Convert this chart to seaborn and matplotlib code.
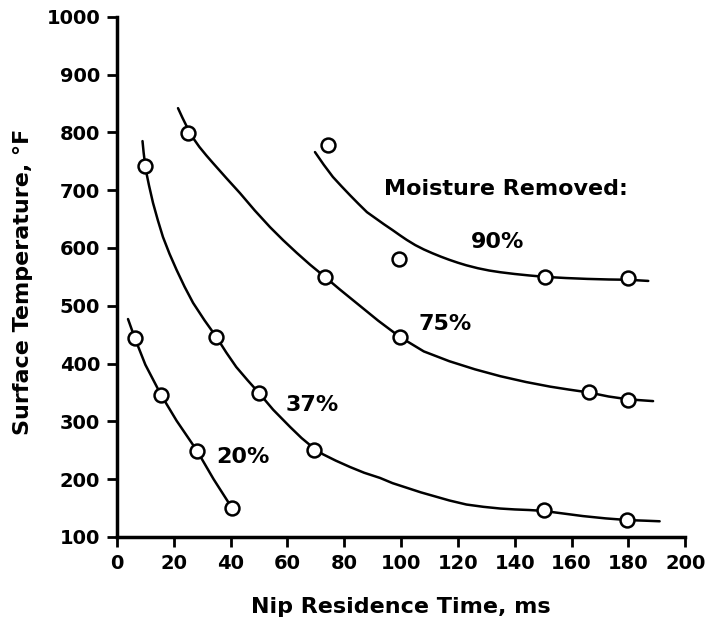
import seaborn as sns
import matplotlib.pyplot as plt

# measured points (nip residence time ms, surface temperature F)
pts_20_x = [6.3, 15.5, 28.2, 40.5]
pts_20_y = [444, 346, 249, 150]
pts_37_x = [10, 35, 50, 69.4, 150.4, 179.6]
pts_37_y = [742, 446, 349, 251, 147, 129]
pts_75_x = [25, 73.2, 99.6, 166, 180]
pts_75_y = [799, 550, 446, 351, 337]
pts_90_x = [74.3, 99.3, 150.7, 180]
pts_90_y = [778, 581, 550, 548]

# fitted curves
fit_20_x = [3.9, 6.3, 10, 15.5, 21, 28.2, 34, 40.5]
fit_20_y = [477, 444, 398, 346, 301, 249, 200, 150]
fit_37_x = [9.0, 9.4, 9.9, 10.5, 11.3, 12.7, 14.4, 16.2, 18.5, 21, 23.8, 26.8, 30.8, 35, 38.5,
            42, 46, 50, 55, 61, 65, 69.4, 72.5, 77, 82, 87, 92.6, 97, 102, 107, 112, 117, 123,
            129, 135, 140, 145, 150, 157, 164, 172, 180, 186, 191]
fit_37_y = [785, 765, 745, 727, 708, 678, 648, 619, 590, 562, 533, 505, 475, 446, 419,
            394, 371, 349, 320, 290, 271, 253, 243, 232, 221, 211, 202, 193, 185, 177, 170, 163, 156,
            152, 149, 147.5, 146.5, 145, 140.5, 136, 132, 129, 128, 127]
fit_75_x = [21.5, 23, 25, 27, 29, 31.5, 33.8, 38.5, 43.3, 48.5, 53.9, 58.5, 63.3, 68, 73.2,
            78.5, 84.5, 92, 99.6, 108, 117, 126, 135, 144, 152.5, 159, 166, 173, 180, 188.7]
fit_75_y = [842, 826, 806, 789, 775, 760, 747, 721, 695, 665, 636, 613.5, 591.5, 571, 550,
            528, 504, 474, 446, 421, 404, 390, 378, 368, 360, 355, 350, 343, 338, 335]
fit_90_x = [69.7, 72.8, 76, 79, 82, 85, 88, 91, 94, 97, 99.6, 102, 105, 108, 111, 114, 117,
            120, 123, 127, 131, 135, 140, 145, 150.7, 158, 165.5, 173, 180, 187]
fit_90_y = [766, 744, 723, 707, 691.5, 676.5, 662, 651.5, 641, 631, 622, 614, 605, 597.5,
            591, 585, 579.5, 574.5, 570, 565, 561, 558, 555, 552.5, 550, 548, 546.5, 545.5,
            545, 543]

labels = ["20%", "37%", "75%", "90%"]
label_x = [44.4, 68.7, 115.5, 133.8]
label_y = [238, 328, 469, 610]

sns.set_style("ticks", {"axes.edgecolor": "black", "text.color": "black",
                        "xtick.color": "black", "ytick.color": "black",
                        "axes.labelcolor": "black"})
plt.rcParams['font.family'] = ['DejaVu Sans']
plt.rcParams['font.weight'] = 'bold'

fig = plt.figure(figsize=(7.13, 6.25), dpi=100)
ax = fig.add_axes([0.164, 0.141, 0.797, 0.832])

for fx, fy in [(fit_20_x, fit_20_y), (fit_37_x, fit_37_y), (fit_75_x, fit_75_y), (fit_90_x, fit_90_y)]:
    sns.lineplot(x=fx, y=fy, sort=False, color='black', linewidth=1.8, ax=ax)

all_x = pts_20_x + pts_37_x + pts_75_x + pts_90_x
all_y = pts_20_y + pts_37_y + pts_75_y + pts_90_y
sns.scatterplot(x=all_x, y=all_y, marker='o', s=100, facecolor='white',
                edgecolor='black', linewidth=1.8, zorder=5, ax=ax)

for t, lx, ly in zip(labels, label_x, label_y):
    ax.text(lx, ly, t, fontsize=16, fontweight='bold', ha='center', va='center')
ax.text(137, 702, "Moisture Removed:", fontsize=16, fontweight='bold', ha='center', va='center')

ax.set_xlim(0, 200)
ax.set_ylim(100, 1000)
ax.set_xticks(range(0, 201, 20))
ax.set_yticks(range(100, 1001, 100))
ax.tick_params(labelsize=14, width=2, length=7, pad=5, direction='out')
for lab in ax.get_xticklabels() + ax.get_yticklabels():
    lab.set_fontweight('bold')
ax.set_xlabel("Nip Residence Time, ms", fontsize=16, fontweight='bold')
ax.set_ylabel("Surface Temperature, °F", fontsize=16, fontweight='bold')
ax.xaxis.set_label_coords(0.5, -0.115)
ax.yaxis.set_label_coords(-0.148, 0.49)
for s in ['left', 'bottom']:
    ax.spines[s].set_linewidth(2.5)
sns.despine(ax=ax)

fig.savefig("out.png", dpi=100)
